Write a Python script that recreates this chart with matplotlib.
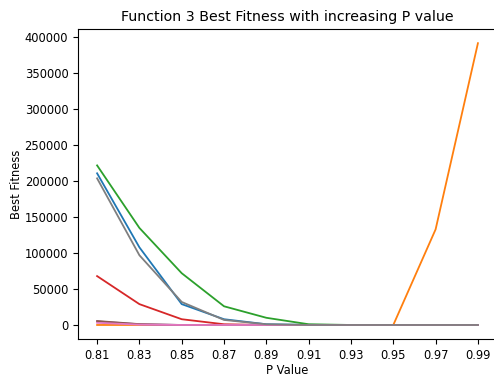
import matplotlib
matplotlib.use("Agg")
import matplotlib.pyplot as plt

p_values = [0.81, 0.83, 0.85, 0.87, 0.89, 0.91, 0.93, 0.95, 0.97, 0.99]

run_1 = [211000, 108000, 29000, 8000, 1000, 200, 0, 0, 0, 0]
run_2 = [0, 0, 0, 0, 0, 0, 0, 0, 133000, 392000]
run_3 = [222000, 135000, 72000, 26000, 10000, 1000, 0, 0, 0, 0]
run_4 = [68000, 29000, 8000, 1000, 0, 0, 0, 0, 0, 0]
run_5 = [5000, 1000, 0, 0, 0, 0, 0, 0, 0, 0]
run_6 = [5500, 1200, 0, 0, 0, 0, 0, 0, 0, 0]
run_7 = [3000, 500, 0, 0, 0, 0, 0, 0, 0, 0]
run_8 = [204000, 97000, 32000, 7000, 1000, 0, 0, 0, 0, 0]

runs = [run_1, run_2, run_3, run_4, run_5, run_6, run_7, run_8]

fig = plt.figure(figsize=(4.94, 3.78), dpi=100)
ax = fig.add_axes([0.158, 0.103, 0.848, 0.82])
for r in runs:
    ax.plot(p_values, r, linewidth=1.3)

ax.set_xticks(p_values)
ax.set_xticklabels([f"{p:.2f}" for p in p_values])
ax.set_title("Function 3 Best Fitness with increasing P value", fontsize=10.2)
ax.set_xlabel("P Value", fontsize=8.3, labelpad=1.5)
ax.set_ylabel("Best Fitness", fontsize=8.3, labelpad=1)
ax.tick_params(labelsize=8.3)
fig.savefig("out.png", dpi=100)
